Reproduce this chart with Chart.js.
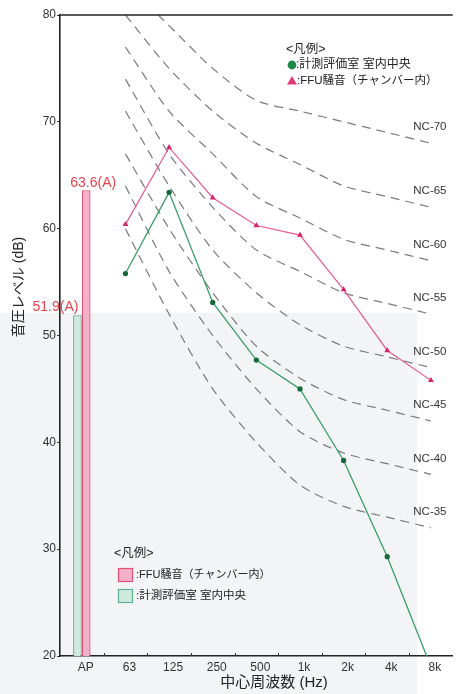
<!DOCTYPE html>
<html><head><meta charset="utf-8">
<script src="https://cdn.jsdelivr.net/npm/chart.js@4/dist/chart.umd.min.js"></script>
<style>html,body{margin:0;padding:0;background:#fff;}#wrap{width:458px;height:694px;position:relative;}</style>
</head><body><div id="wrap"><canvas id="c" width="458" height="694"></canvas></div>
<script>
// ---- data ----
const categories = ['AP','63','125','250','500','1k','2k','4k','8k'];
const apFFU = 63.6;
const apRoom = 51.9;
const ffuLevels  = [null, 60.4, 67.6, 62.9, 60.3, 59.4, 54.3, 48.6, 45.8];
const roomLevels = [null, 55.8, 63.4, 53.1, 47.7, 45.0, 38.3, 29.3, 19.0];
const nc35 = [null, 60, 52, 45, 40, 36, 34, 33, 32];
const nc40 = [null, 64, 56, 50, 45, 41, 39, 38, 37];
const nc45 = [null, 67, 60, 54, 49, 46, 44, 43, 42];
const nc50 = [null, 71, 64, 58, 54, 51, 49, 48, 47];
const nc55 = [null, 74, 67, 62, 58, 56, 54, 53, 52];
const nc60 = [null, 77, 71, 67, 63, 61, 59, 58, 57];
const nc65 = [null, 80, 75, 71, 68, 66, 64, 63, 62];
const nc70 = [null, 83, 79, 75, 72, 71, 70, 69, 68];
const ncCurves = [nc35, nc40, nc45, nc50, nc55, nc60, nc65, nc70];
const ncNames = ['NC-35','NC-40','NC-45','NC-50','NC-55','NC-60','NC-65','NC-70'];
const yMin = 20, yMax = 80, yStep = 10;
const apLabels = ['51.9(A)', '63.6(A)'];
const legendTitle = '<凡例>';
const roomName = ':計測評価室 室内中央';
const ffuName = ':FFU騒音（チャンバー内）';
const xTitle = '中心周波数 (Hz)';
const yTitle = '音圧レベル (dB)';

// ---- styles ----
const LATIN = "'Liberation Sans', Arial, sans-serif";
const CJK = "'Liberation Sans', 'Noto Sans CJK JP', sans-serif";
const PINK_LINE = '#e65a92', PINK_PT = '#d6246a';
const GREEN_LINE = '#3a9d68', GREEN_PT = '#17693a';
const PINK_FILL = '#f3b0c9', PINK_EDGE = '#e0516f';
const GREEN_FILL = '#cfe9df', GREEN_EDGE = '#5cb391';

Chart.defaults.font.family = LATIN;

const apOnly = v => categories.map((c, i) => i === 0 ? v : null);

const datasets = [];
ncCurves.forEach((d, i) => datasets.push({
  type: 'line', label: ncNames[i], data: d, order: 3,
  borderColor: '#7a7a7a', borderWidth: 1.2, borderDash: [9, 6],
  pointRadius: 0, tension: 0.25, cubicInterpolationMode: 'default', fill: false
}));
datasets.push({ type: 'bar', label: 'room AP', data: apOnly(apRoom), order: 2,
  backgroundColor: GREEN_FILL, borderColor: GREEN_EDGE, borderWidth: 1.3, borderSkipped: false,
  categoryPercentage: 0.4, barPercentage: 1.0 });
datasets.push({ type: 'bar', label: 'ffu AP', data: apOnly(apFFU), order: 2,
  backgroundColor: PINK_FILL, borderColor: PINK_EDGE, borderWidth: 1.3, borderSkipped: false,
  categoryPercentage: 0.4, barPercentage: 1.0 });
datasets.push({ type: 'line', label: 'room', data: roomLevels, order: 1,
  borderColor: GREEN_LINE, borderWidth: 1.3, pointStyle: 'circle', pointRadius: 2,
  pointBackgroundColor: GREEN_PT, pointBorderColor: GREEN_PT, tension: 0 });
datasets.push({ type: 'line', label: 'ffu', data: ffuLevels, order: 1,
  borderColor: PINK_LINE, borderWidth: 1.2, pointStyle: 'triangle', pointRadius: 2.2,
  pointBackgroundColor: PINK_PT, pointBorderColor: PINK_PT, tension: 0 });

const deco = {
  id: 'deco',
  beforeDraw(chart) {
    const ctx = chart.ctx;
    ctx.save();
    ctx.fillStyle = '#ffffff';
    ctx.fillRect(0, 0, chart.width, chart.height);
    ctx.fillStyle = '#f3f4f6';
    ctx.fillRect(0, 313, 417, chart.height - 313);
    ctx.restore();
  },
  afterDraw(chart) {
    const ctx = chart.ctx, ca = chart.chartArea;
    const xs = chart.scales.x, ys = chart.scales.y;
    ctx.save();
    // top border
    ctx.strokeStyle = '#222'; ctx.lineWidth = 1.6;
    ctx.beginPath(); ctx.moveTo(ca.left, ca.top); ctx.lineTo(ca.right, ca.top); ctx.stroke();
    // small inward x ticks at category boundaries
    const cw = (ca.right - ca.left) / categories.length;
    ctx.lineWidth = 1; ctx.strokeStyle = '#333';
    for (let i = 1; i < categories.length; i++) {
      const x = Math.round(ca.left + i * cw) + 0.5;
      ctx.beginPath(); ctx.moveTo(x, ca.bottom); ctx.lineTo(x, ca.bottom - 3); ctx.stroke();
    }
    // NC labels
    ctx.fillStyle = '#333'; ctx.font = '11.5px ' + LATIN;
    ctx.textAlign = 'center'; ctx.textBaseline = 'middle';
    const last = categories.length - 1;
    ncCurves.forEach((d, i) => {
      ctx.fillText(ncNames[i], xs.getPixelForValue(last) - 1, ys.getPixelForValue(d[last] + 1.5));
    });
    // AP labels
    ctx.fillStyle = '#e8414e'; ctx.font = '14px ' + LATIN; ctx.textBaseline = 'alphabetic';
    const gBar = chart.getDatasetMeta(ncCurves.length).data[0];
    const pBar = chart.getDatasetMeta(ncCurves.length + 1).data[0];
    ctx.fillText(apLabels[0], gBar.x - 22, gBar.y - 4);
    ctx.fillText(apLabels[1], pBar.x + 7, pBar.y - 3);
    // axis titles
    ctx.fillStyle = '#222'; ctx.font = '15px ' + CJK; ctx.textBaseline = 'middle';
    ctx.fillText(xTitle, 274, 683);
    ctx.save();
    ctx.translate(19, 287); ctx.rotate(-Math.PI / 2);
    ctx.font = '14px ' + CJK;
    ctx.fillText(yTitle, 0, 0);
    ctx.restore();
    // top legend
    ctx.textAlign = 'left'; ctx.fillStyle = '#222';
    ctx.font = '12.5px ' + CJK;
    ctx.fillText(legendTitle, 286, 50);
    ctx.font = '12px ' + CJK;
    ctx.fillStyle = '#1e8a4a';
    ctx.beginPath(); ctx.arc(292, 65, 4.4, 0, Math.PI * 2); ctx.fill();
    ctx.fillStyle = '#222'; ctx.fillText(roomName, 296, 65);
    ctx.fillStyle = '#e23b7a';
    ctx.beginPath(); ctx.moveTo(292, 76); ctx.lineTo(297, 84.5); ctx.lineTo(287, 84.5); ctx.closePath(); ctx.fill();
    ctx.fillStyle = '#222';
    ctx.font = '11.5px ' + CJK;
    ctx.fillText(ffuName, 297, 81);
    // bottom legend
    ctx.font = '12.5px ' + CJK;
    ctx.fillText(legendTitle, 114, 554);
    ctx.lineWidth = 1.2;
    ctx.fillStyle = PINK_FILL; ctx.strokeStyle = PINK_EDGE;
    ctx.fillRect(118.5, 568.5, 14, 13); ctx.strokeRect(118.5, 568.5, 14, 13);
    ctx.fillStyle = GREEN_FILL; ctx.strokeStyle = GREEN_EDGE;
    ctx.fillRect(118.5, 589.5, 14, 13); ctx.strokeRect(118.5, 589.5, 14, 13);
    ctx.fillStyle = '#222';
    ctx.font = '11px ' + CJK;
    ctx.fillText(ffuName, 136, 575);
    ctx.font = '11.5px ' + CJK;
    ctx.fillText(roomName, 136, 596);
    ctx.restore();
  }
};

new Chart(document.getElementById('c'), {
  type: 'bar',
  data: { labels: categories, datasets },
  plugins: [deco],
  options: {
    responsive: false, animation: false, devicePixelRatio: 1,
    layout: { padding: { top: 15, left: 0, right: 0, bottom: 0 } },
    plugins: { legend: { display: false }, tooltip: { enabled: false } },
    scales: {
      x: {
        offset: true,
        grid: { display: false, drawOnChartArea: false, drawTicks: false, tickLength: 0 },
        border: { display: true, color: '#222', width: 1.6 },
        ticks: { color: '#333', font: { size: 12 }, padding: 4, labelOffset: 4, maxRotation: 0, autoSkip: false },
        afterFit(s) { s.height = 38; }
      },
      y: {
        min: yMin, max: yMax,
        grid: { drawOnChartArea: false, tickLength: 3, color: '#333' },
        border: { display: true, color: '#222', width: 1.6 },
        ticks: { stepSize: yStep, color: '#333', font: { size: 12 }, padding: 1 },
        afterFit(s) { s.width = 60; }
      }
    }
  }
});
</script></body></html>
